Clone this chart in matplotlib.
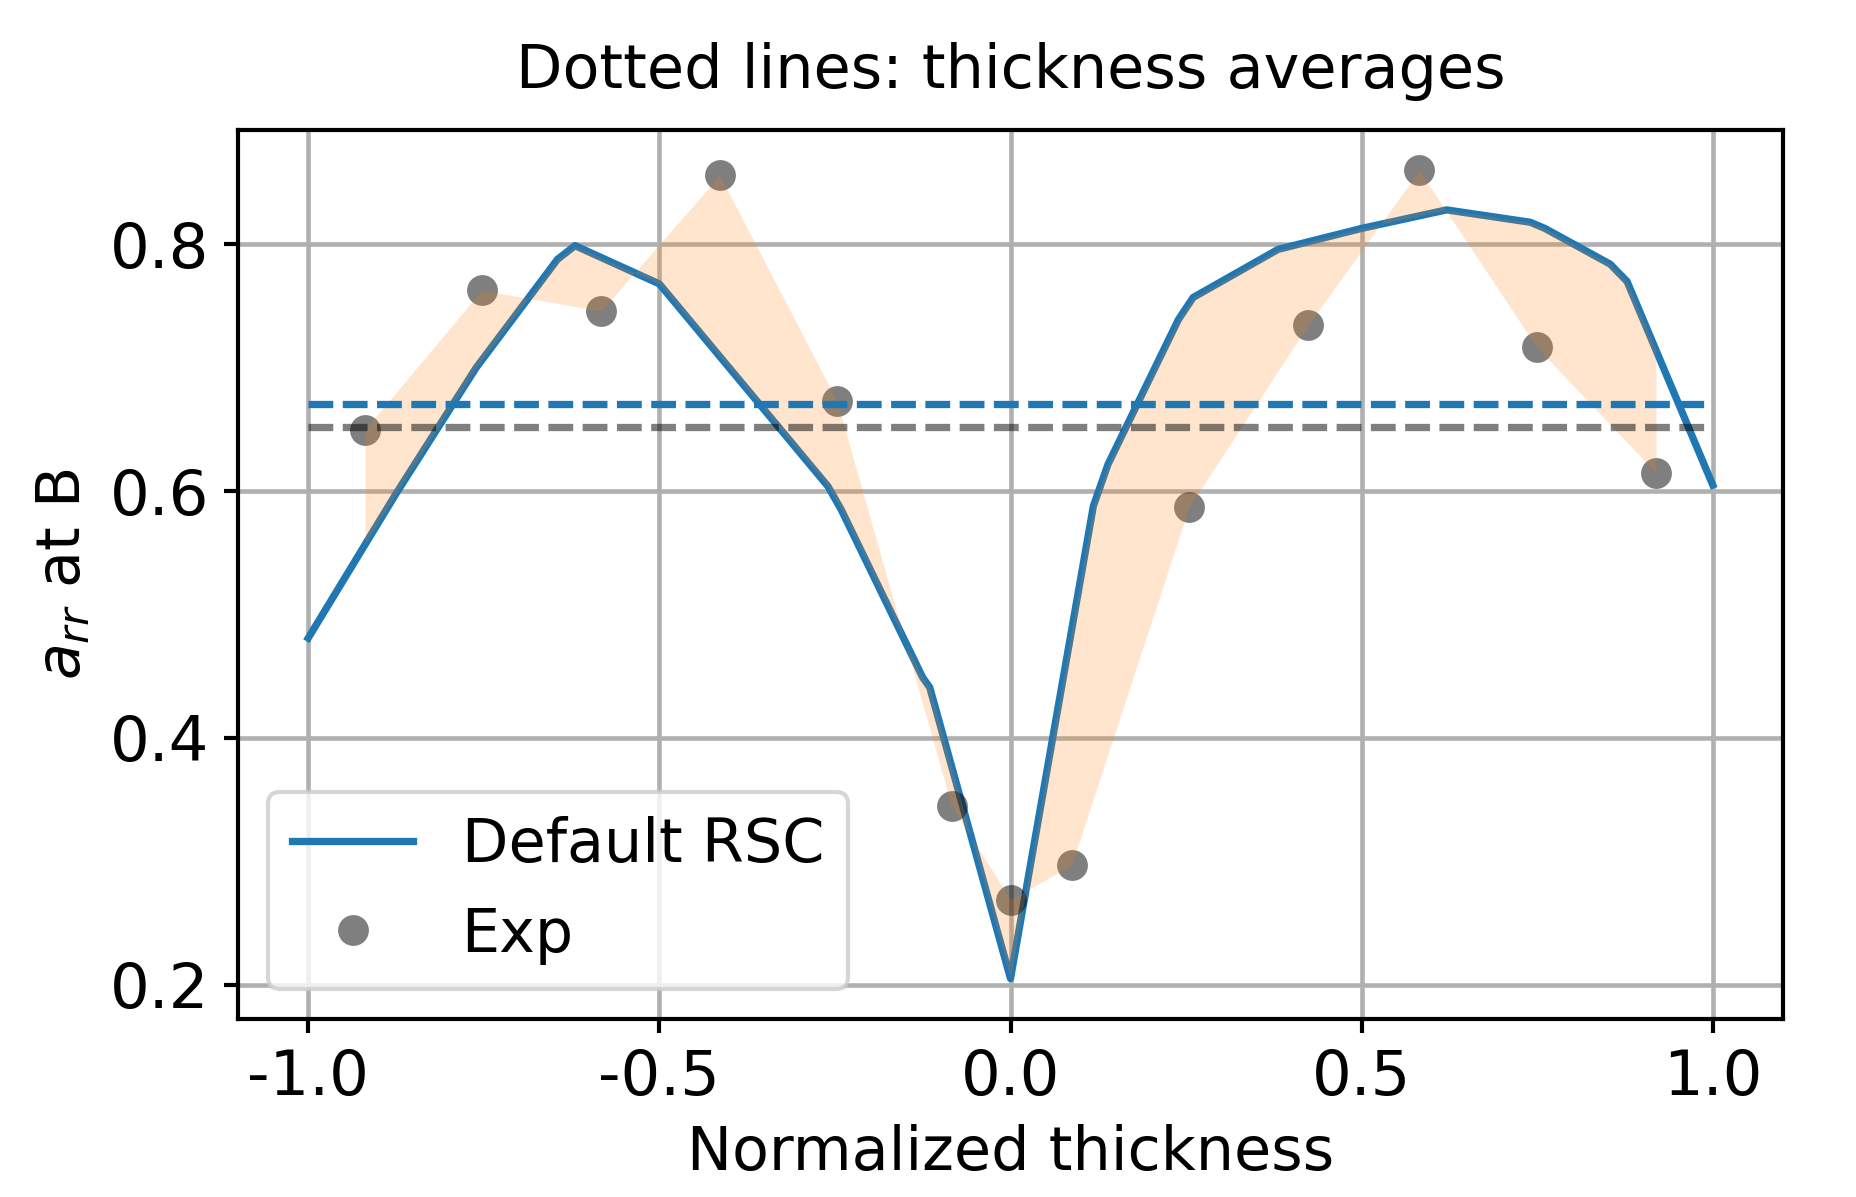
import numpy as np
import matplotlib
matplotlib.use("Agg")
import matplotlib.pyplot as plt

# Model curve ("Default RSC")
x_model = [-1.0, -0.875, -0.761, -0.645, -0.620, -0.500, -0.260, -0.241, -0.125, -0.115,
           0.0, 0.118, 0.139, 0.239, 0.260, 0.381, 0.500, 0.621, 0.740, 0.761, 0.854, 0.878, 1.0]
y_model = [0.481, 0.598, 0.700, 0.788, 0.799, 0.768, 0.604, 0.585, 0.449, 0.441,
           0.205, 0.588, 0.622, 0.739, 0.757, 0.796, 0.813, 0.828, 0.818, 0.813, 0.784, 0.770, 0.605]

# Experimental points ("Exp")
x_exp = [-0.919, -0.753, -0.583, -0.414, -0.247, -0.084, 0.0, 0.087, 0.254, 0.424, 0.582, 0.749, 0.919]
y_exp = [0.650, 0.763, 0.746, 0.856, 0.673, 0.345, 0.269, 0.297, 0.587, 0.735, 0.860, 0.717, 0.615]

# Thickness averages (dashed lines)
avg_model = 0.671
avg_exp = 0.652

title = "Dotted lines: thickness averages"
xlabel = "Normalized thickness"
ylabel = r"$a_{rr}$ at B"

plt.rcParams['font.family'] = ['DejaVu Sans']
plt.rcParams['font.size'] = 15
plt.rcParams['axes.unicode_minus'] = False

fig = plt.figure(figsize=(1856 / 300, 1197 / 300), dpi=300)
ax = fig.add_axes([238 / 1856, 1 - 1019 / 1197, (1783 - 238) / 1856, (1019 - 130) / 1197])

lw = 1.75
ax.plot(x_model, y_model, color='C0', lw=lw, label='Default RSC', zorder=3)
ax.plot(x_exp, y_exp, 'o', color='k', alpha=0.5, ms=7.4, mew=0, label='Exp', zorder=4)

# band between model and experiment
xm = np.asarray(x_model)
xe = np.asarray(x_exp)
xc = np.union1d(xm[(xm >= xe.min()) & (xm <= xe.max())], xe)
ax.fill_between(xc, np.interp(xc, x_model, y_model), np.interp(xc, x_exp, y_exp),
                color='C1', alpha=0.2, lw=0, zorder=5)

ax.hlines(avg_model, -1, 1, colors='C0', linestyles=(0, (3.4, 1.3)), lw=lw, zorder=6)
ax.hlines(avg_exp, -1, 1, colors='k', alpha=0.5, linestyles=(0, (3.4, 1.3)), lw=lw, zorder=6)

ax.set_xticks([-1.0, -0.5, 0.0, 0.5, 1.0])
ax.set_yticks([0.2, 0.4, 0.6, 0.8])
ax.grid(True, color='#b0b0b0', lw=1.1)
ax.set_axisbelow(True)
for s in ax.spines.values():
    s.set_linewidth(1.0)
ax.tick_params(width=1.0, length=3.4, labelsize=15)

ax.set_title(title, fontsize=14.5, pad=10)
ax.set_xlabel(xlabel, fontsize=14.5)
ax.set_ylabel(ylabel, fontsize=14.5)
ax.legend(loc='lower left', handlelength=2.0, fontsize=14.5)

fig.savefig("out.png", dpi=300)
